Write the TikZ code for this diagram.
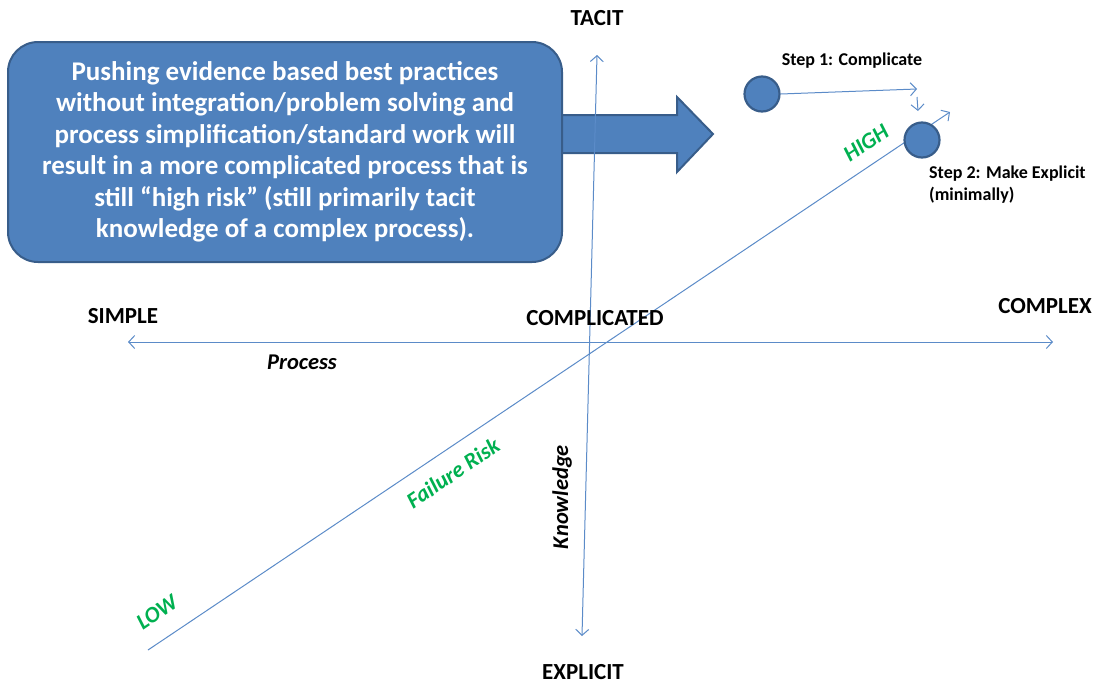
\documentclass[tikz,border=0pt]{standalone}
\usepackage{fontspec}
\setmainfont{Carlito}
\usetikzlibrary{arrows.meta}
\definecolor{boxfill}{HTML}{4F81BD}
\definecolor{boxline}{HTML}{385D8A}
\definecolor{axisblue}{HTML}{5B8BC8}
\definecolor{riskgreen}{HTML}{00B050}
\tikzset{
  barb/.tip={Straight Barb[length=6pt,width=13pt,line width=1pt]},
  axis/.style={draw=axisblue, line width=1pt},
  biglabel/.style={font=\fontsize{23}{26}\selectfont\bfseries, inner sep=0pt},
  greenlabel/.style={font=\fontsize{22.5}{26}\selectfont\bfseries\itshape, text=riskgreen, inner sep=0pt},
  axisname/.style={font=\fontsize{22.5}{26}\selectfont\bfseries\itshape, inner sep=0pt},
  steplabel/.style={font=\fontsize{18}{22}\selectfont\bfseries, inner sep=0pt},
  dot/.style={circle, fill=boxfill, draw=boxline, line width=2.2pt, minimum size=35pt, inner sep=0pt},
}
\begin{document}
\begin{tikzpicture}[x=1pt,y=-1pt]
\useasboundingbox (0,0) rectangle (1103,683);
% callout arrow
\coordinate (s1) at (562,115);
\coordinate (s2) at (677,115);
\coordinate (s3) at (677,97);
\coordinate (tipA) at (713,134);
\coordinate (s5) at (677,172);
\coordinate (s6) at (677,153);
\coordinate (s7) at (562,153);
\draw[fill=boxfill, draw=boxline, line width=2pt, line join=miter]
  (s1) -- (s2) -- (s3) -- (tipA) -- (s5) -- (s6) -- (s7);
% callout box
\node[draw=boxline, fill=boxfill, line width=2pt, rounded corners=30pt,
      minimum width=554pt, minimum height=220pt, text=white,
      align=center, font=\fontsize{27}{31.5}\selectfont\bfseries, inner sep=0pt]
  (callout) at (285,152)
  {Pushing evidence based best practices\\
   without integration/problem solving and\\
   process simplification/standard work will\\
   result in a more complicated process that is\\
   still “high risk” (still primarily tacit\\
   knowledge of a complex process).};
% axes
\coordinate (tacitEnd) at (597,55);
\coordinate (explicitEnd) at (582,636);
\coordinate (simpleEnd) at (128,342);
\coordinate (complexEnd) at (1053,342);
\coordinate (lowEnd) at (148,650);
\coordinate (highEnd) at (950,112);
\draw[axis, barb-barb] (tacitEnd) -- (explicitEnd);
\draw[axis, barb-barb] (simpleEnd) -- (complexEnd);
\draw[axis, -barb] (lowEnd) -- (highEnd);
% step circles
\node[dot] (c1) at (762,94) {};
\node[dot] (c2) at (922,140) {};
\coordinate (a1end) at (917,89);
\coordinate (a2start) at (917,97);
\coordinate (a2end) at (918,111);
\draw[axis, -barb] (c1.east) -- (a1end);
\draw[axis, -barb] (a2start) -- (a2end);
% labels
\node[biglabel] (tacit) at (597,18) {TACIT};
\node[biglabel, anchor=base] (explicit) at (583,679) {EXPLICIT};
\node[biglabel] (simple) at (123,316) {SIMPLE};
\node[biglabel] (complicated) at (595,318) {COMPLICATED};
\node[biglabel] (complex) at (1045,306) {COMPLEX};
\node[axisname] (process) at (302,362) {Process};
\node[axisname, rotate=90] (knowledge) at (562,497) {Knowledge};
\node[greenlabel, rotate=34] (failure) at (453,473) {Failure Risk};
\node[greenlabel, rotate=34] (high) at (866,143) {HIGH};
\node[greenlabel, rotate=34] (low) at (157,612) {LOW};
\node[steplabel] (step1) at (852,61) {Step 1: Complicate};
\node[steplabel, anchor=north west, align=left] (step2) at (929,166) {Step 2: Make Explicit\\(minimally)};
\end{tikzpicture}
\end{document}
